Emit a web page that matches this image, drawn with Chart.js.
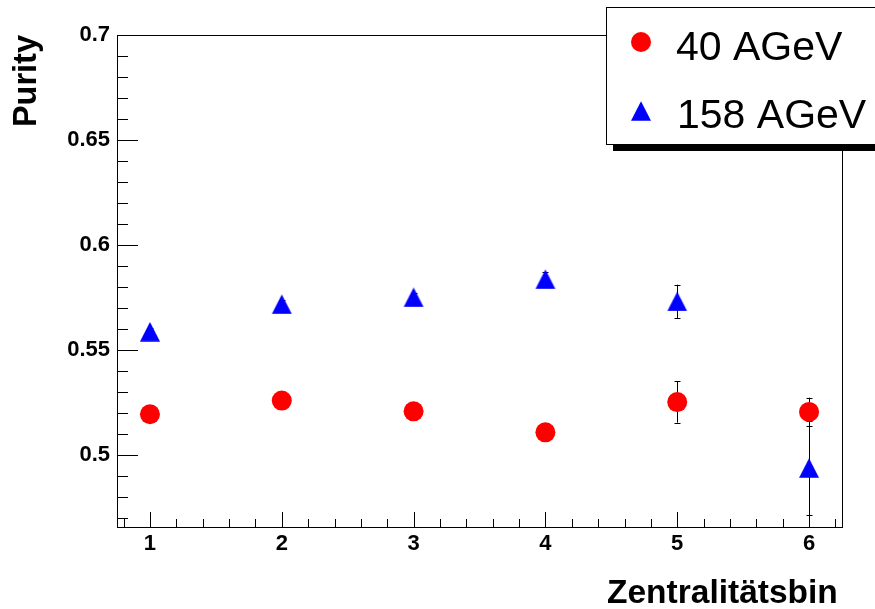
<!DOCTYPE html>
<html>
<head>
<meta charset="utf-8">
<script src="https://cdn.jsdelivr.net/npm/chart.js@4/dist/chart.umd.min.js"></script>
<style>
  html, body { margin: 0; padding: 0; background: #fff; }
  #wrap { width: 875px; height: 609px; }
</style>
</head>
<body>
<div id="wrap"><canvas id="purity" width="875" height="609"></canvas></div>
<script>
// Zentralitaetsbins und Purity-Werte
const bins = [1, 2, 3, 4, 5, 6];
const purity40 = [0.5194, 0.5259, 0.5208, 0.5108, 0.5252, 0.5205];
const fehler40 = [0.003, 0.003, 0.003, 0.003, 0.0098, 0.0068];
const purity158 = [0.5587, 0.5718, 0.5751, 0.5837, 0.5731, 0.4938];
const fehler158 = [0.002, 0.002, 0.002, 0.0035, 0.008, 0.0225];
const xTicks = [1, 2, 3, 4, 5, 6];
const yTicks = [0.5, 0.55, 0.6, 0.65, 0.7];
const labels = ['40 AGeV', '158 AGeV'];

const fontName = '"Liberation Sans", Arial, Helvetica, sans-serif';

// Dreieck wie bei ROOT: Mitte der Box liegt auf dem Wert
function makeTriangle(color) {
  let c = document.createElement('canvas');
  c.width = 22;
  c.height = 20;
  let g = c.getContext('2d');
  g.fillStyle = color;
  g.beginPath();
  g.moveTo(11, 0.3);
  g.lineTo(21, 19.7);
  g.lineTo(1, 19.7);
  g.closePath();
  g.fill();
  return c;
}
const triangle = makeTriangle('#0000ff');

function points(ys, errs) {
  return bins.map((b, i) => ({ x: b, y: ys[i], err: errs[i] }));
}

const rootStyle = {
  id: 'rootStyle',
  beforeDatasetsDraw(chart) {
    const ctx = chart.ctx;
    const a = chart.chartArea;
    const xs = chart.scales.x;
    const ys = chart.scales.y;
    ctx.save();
    ctx.strokeStyle = '#000';
    ctx.lineWidth = 1;

    // Rahmen
    ctx.strokeRect(a.left + 0.5, a.top + 0.5, a.right - a.left, a.bottom - a.top);

    // Ticks nach innen
    ctx.beginPath();
    for (let k = 4; k <= 31; k++) {
      let v = k / 5;
      let px = Math.round(xs.getPixelForValue(v)) + 0.5;
      if (px < a.left || px > a.right) continue;
      let len = (k % 5 === 0) ? 15 : 8;
      ctx.moveTo(px, a.bottom);
      ctx.lineTo(px, a.bottom - len);
    }
    for (let k = 47; k <= 70; k++) {
      let v = k / 100;
      let py = Math.round(ys.getPixelForValue(v)) + 0.5;
      let len = (k % 5 === 0) ? 21 : 11;
      ctx.moveTo(a.left, py);
      ctx.lineTo(a.left + len, py);
    }
    ctx.stroke();

    // Fehlerbalken
    ctx.beginPath();
    chart.data.datasets.forEach(ds => {
      ds.data.forEach(p => {
        let px = Math.round(xs.getPixelForValue(p.x)) + 0.5;
        let top = ys.getPixelForValue(p.y + p.err);
        let bot = ys.getPixelForValue(p.y - p.err);
        ctx.moveTo(px, top);
        ctx.lineTo(px, bot);
        ctx.moveTo(px - 3, Math.round(top) + 0.5);
        ctx.lineTo(px + 3, Math.round(top) + 0.5);
        ctx.moveTo(px - 3, Math.round(bot) + 0.5);
        ctx.lineTo(px + 3, Math.round(bot) + 0.5);
      });
    });
    ctx.stroke();
    ctx.restore();
  },
  afterDraw(chart) {
    const ctx = chart.ctx;
    ctx.save();

    // Achsentitel
    ctx.fillStyle = '#000';
    ctx.font = 'bold 33.5px ' + fontName;
    ctx.textAlign = 'left';
    ctx.textBaseline = 'alphabetic';
    ctx.fillText('Zentralitätsbin', 607, 603);

    ctx.save();
    ctx.font = 'bold 32.5px ' + fontName;
    ctx.translate(36, 35);
    ctx.rotate(-Math.PI / 2);
    ctx.textAlign = 'right';
    ctx.fillText('Purity', 0, 0);
    ctx.restore();

    // Legende mit Schatten
    ctx.fillStyle = '#000';
    ctx.fillRect(613, 144, 270, 7);
    ctx.fillStyle = '#fff';
    ctx.fillRect(606, 7, 280, 137);
    ctx.strokeStyle = '#000';
    ctx.lineWidth = 1;
    ctx.strokeRect(606.5, 7.5, 280, 137);

    ctx.fillStyle = '#ff0000';
    ctx.beginPath();
    ctx.arc(641, 42, 10, 0, Math.PI * 2);
    ctx.fill();
    ctx.drawImage(triangle, 641 - 11, 111 - 10);

    ctx.fillStyle = '#000';
    ctx.font = '41px ' + fontName;
    ctx.textAlign = 'left';
    ctx.fillText(chart.data.datasets[0].label, 676, 60);
    ctx.fillText(chart.data.datasets[1].label, 677, 128);
    ctx.restore();
  }
};

new Chart(document.getElementById('purity'), {
  type: 'scatter',
  data: {
    datasets: [
      {
        label: labels[0],
        data: points(purity40, fehler40),
        pointStyle: 'circle',
        pointRadius: 10,
        pointBorderWidth: 0,
        backgroundColor: '#ff0000',
        borderColor: '#ff0000'
      },
      {
        label: labels[1],
        data: points(purity158, fehler158),
        pointStyle: triangle,
        pointRadius: 10,
        backgroundColor: '#0000ff',
        borderColor: '#0000ff'
      }
    ]
  },
  options: {
    responsive: false,
    animation: false,
    events: [],
    layout: { padding: { top: 35, right: 33, left: 0, bottom: 0 } },
    plugins: {
      legend: { display: false },
      tooltip: { enabled: false }
    },
    scales: {
      x: {
        type: 'linear',
        min: 0.75,
        max: 6.25,
        grid: { display: false, drawTicks: false },
        border: { display: false },
        afterBuildTicks: s => { s.ticks = xTicks.map(v => ({ value: v })); },
        afterFit: s => { s.height = 82; },
        ticks: {
          padding: 4,
          color: '#000',
          font: { family: fontName, size: 22, weight: 'bold' },
          maxRotation: 0,
          callback: v => String(v)
        }
      },
      y: {
        type: 'linear',
        min: 0.46571,
        max: 0.7,
        grid: { display: false, drawTicks: false },
        border: { display: false },
        afterBuildTicks: s => { s.ticks = yTicks.map(v => ({ value: v })); },
        afterFit: s => { s.width = 117; },
        ticks: {
          padding: 7,
          color: '#000',
          font: { family: fontName, size: 22, weight: 'bold' },
          callback: v => String(v)
        }
      }
    }
  },
  plugins: [rootStyle]
});
</script>
</body>
</html>
